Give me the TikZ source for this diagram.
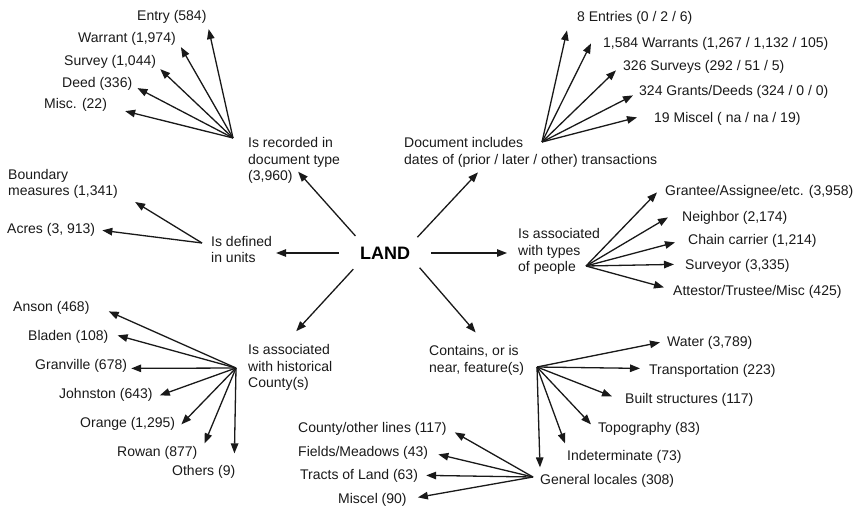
\documentclass[tikz,border=0pt]{standalone}
\usepackage{fontspec}
\setmainfont{Liberation Sans}
\usetikzlibrary{arrows.meta,shapes.geometric,calc}
\tikzset{
  lbl/.style={inner sep=0pt, anchor=base west, text=black!90, font=\fontsize{14}{16.5}\selectfont},
  grp/.style={lbl, anchor=west, align=left},
  arr/.style={-{Triangle[length=10pt,width=7.5pt]}, line width=1.3pt, draw=black!90}
}
\begin{document}
\begin{tikzpicture}[x=1pt,y=-1pt]
\useasboundingbox (0,0) rectangle (864,509);
\node[ellipse, minimum width=92pt, minimum height=44pt, inner sep=0pt, text=black,
  font=\fontsize{18}{20}\selectfont\bfseries] (land) at (385,253) {LAND};

\node[grp] (rec) at (248,160.5) {Is recorded in\\document type\\(3,960)};
\node[grp] (incl) at (404,152.4) {Document includes\\dates of (prior / later / other) transactions};
\node[grp] (units) at (211,249.4) {Is defined\\in units};
\node[grp] (people) at (518,251.4) {Is associated\\with types\\of people};
\node[grp] (county) at (248,367.4) {Is associated\\with historical\\County(s)};
\node[grp] (feat) at (429,360.4) {Contains, or is\\near, feature(s)};

\draw[arr] (land.150) -- ($(rec.south)+(4,-12)$);
\draw[arr] (land.26) -- ($(incl.south west)+(74,5)$);
\draw[arr, shorten >=4pt] (land.west) -- (land.west -| units.east);
\draw[arr, shorten >=11pt] (land.east) -- (land.east -| people.west);
\draw[arr] (land.207) -- ($(county.north)+(6,-13)$);
\draw[arr] (land.337) -- ($(feat.north)+(-1,-13)$);

\coordinate (recH) at (233,138);
\node[lbl] (entry) at (137,20) {Entry (584)};
\node[lbl] (warrant) at (78,42) {Warrant (1,974)};
\node[lbl] (survey) at (64,65) {Survey (1,044)};
\node[lbl] (deed) at (62,87) {Deed (336)};
\node[lbl] (misc) at (44,108) {Misc. (22)};
\foreach \n/\dx/\dy in {entry/2/6, warrant/5/2, survey/4/1, deed/5/-2, misc/18/0}
  \draw[arr] (recH) -- ($(\n.south east)+(\dx,\dy)$);

\coordinate (inclH) at (542,142);
\node[lbl] (entries) at (577,21) {8 Entries (0 / 2 / 6)};
\node[lbl] (warrants) at (603,47) {1,584 Warrants (1,267 / 1,132 / 105)};
\node[lbl] (surveys) at (623,70) {326 Surveys (292 / 51 / 5)};
\node[lbl] (grants) at (639,95) {324 Grants/Deeds (324 / 0 / 0)};
\node[lbl] (miscel) at (654,122) {19 Miscel ( na / na / 19)};
\foreach \n/\dx/\dy in {entries/-10/13, warrants/-12/0, surveys/-7/4, grants/-6/4, miscel/-17/-1}
  \draw[arr] (inclH) -- ($(\n.west)+(\dx,\dy)$);

\coordinate (unitsH) at (202,243);
\node[grp] (bound) at (8,184) {Boundary\\measures (1,341)};
\node[lbl] (acres) at (7,233) {Acres (3, 913)};
\foreach \n/\dx/\dy in {bound/17/18, acres/7/1}
  \draw[arr] (unitsH) -- ($(\n.east)+(\dx,\dy)$);

\coordinate (peopleH) at (586,266);
\node[lbl] (grantee) at (665,195) {Grantee/Assignee/etc. (3,958)};
\node[lbl] (neighbor) at (682,221) {Neighbor (2,174)};
\node[lbl] (chain) at (688,244) {Chain carrier (1,214)};
\node[lbl] (surveyor) at (685,269) {Surveyor (3,335)};
\node[lbl] (attestor) at (673,295) {Attestor/Trustee/Misc (425)};
\foreach \n/\dx/\dy in {grantee/-8/1, neighbor/-14/0, chain/-13/2, surveyor/-11/-1, attestor/-9/-4}
  \draw[arr] (peopleH) -- ($(\n.west)+(\dx,\dy)$);

\coordinate (countyH) at (236,368);
\node[lbl] (anson) at (13,311) {Anson (468)};
\node[lbl] (bladen) at (28,340) {Bladen (108)};
\node[lbl] (granville) at (35,369) {Granville (678)};
\node[lbl] (johnston) at (59,398) {Johnston (643)};
\node[lbl] (orange) at (80,427) {Orange (1,295)};
\node[lbl] (rowan) at (117,456) {Rowan (877)};
\node[lbl] (others) at (172,475) {Others (9)};
\foreach \n/\dx/\dy in {anson/19/4, bladen/9/-1, granville/4/3, johnston/7/1, orange/6/1, rowan/7/-9, others/-1/-18}
  \draw[arr] (countyH) -- ($(\n.east)+(\dx,\dy)$);

\coordinate (featH) at (537,367);
\node[lbl] (water) at (667,346) {Water (3,789)};
\node[lbl] (transp) at (649,374) {Transportation (223)};
\node[lbl] (built) at (625,403) {Built structures (117)};
\node[lbl] (topo) at (598,432) {Topography (83)};
\node[lbl] (indet) at (567,460) {Indeterminate (73)};
\node[lbl] (general) at (540,484) {General locales (308)};
\foreach \n/\dx/\dy in {water/-7/0, transp/-9/-2, built/-13/-3, topo/-7/-4, indet/-2/-13, general/0/-13}
  \draw[arr] (featH) -- ($(\n.west)+(\dx,\dy)$);

\coordinate (genH) at (533,477);
\node[lbl] (lines) at (298,432) {County/other lines (117)};
\node[lbl] (fields) at (298,456) {Fields/Meadows (43)};
\node[lbl] (tracts) at (300,479) {Tracts of Land (63)};
\node[lbl] (miscgen) at (338,503) {Miscel (90)};
\foreach \n/\dx/\dy in {lines/8/4, fields/10/2, tracts/8/0, miscgen/11/-2}
  \draw[arr] (genH) -- ($(\n.east)+(\dx,\dy)$);
\end{tikzpicture}
\end{document}
